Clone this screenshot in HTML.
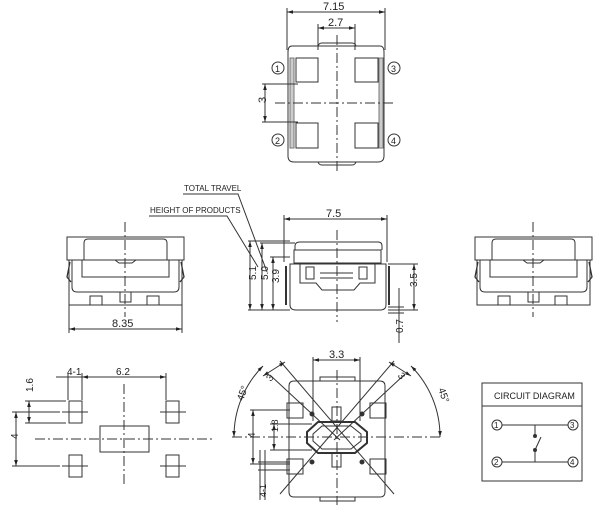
<!DOCTYPE html>
<html><head><style>
html,body{margin:0;padding:0;background:#fff;}
svg{display:block;}
text{font-family:"Liberation Sans",sans-serif;fill:#222;}
</style></head><body>
<svg width="600" height="514" viewBox="0 0 600 514" xmlns="http://www.w3.org/2000/svg" fill="none" stroke="#333" stroke-width="1">
<defs>
<marker id="a" viewBox="0 0 10 10" refX="10" refY="5" markerWidth="6" markerHeight="6" orient="auto-start-reverse"><path d="M0,2L10,5L0,8z" fill="#222" stroke="none"/></marker>
<g id="side">
<rect x="0" y="0" width="117" height="23"/>
<path d="M17,23 V6 Q17,2 21,2 H96 Q100,2 100,6 V23"/>
<path d="M17,23 H48 L52,26 H65 L69,23 H100"/>
<rect x="15" y="23" width="87" height="17"/>
<path d="M5,23 V50 Q5,55 10,55 H107 Q112,55 112,50 V23"/>
<path d="M2,23 V68 H115 V23"/>
<path d="M3,25 L0,40 L4,45 M114,25 L117,40 L113,45" stroke-width="1.3"/>
<rect x="23" y="59" width="12" height="9"/>
<rect x="80" y="59" width="12" height="9"/>
<rect x="53" y="55" width="11" height="10"/>
<line x1="58" y1="-15" x2="58" y2="80" stroke-dasharray="10,3,2,3"/>
</g>
</defs>

<!-- TOP VIEW -->
<g>
<line x1="287" y1="12" x2="385" y2="12" marker-start="url(#a)" marker-end="url(#a)"/>
<line x1="287" y1="8" x2="287" y2="50"/><line x1="385" y1="8" x2="385" y2="50"/>
<text x="323" y="10" font-size="11" stroke="none">7.15</text>
<line x1="318" y1="28" x2="355" y2="28" marker-start="url(#a)" marker-end="url(#a)"/>
<line x1="318" y1="24" x2="318" y2="50"/><line x1="355" y1="24" x2="355" y2="50"/>
<text x="328" y="26" font-size="11" stroke="none">2.7</text>
<path d="M292,46 H380 Q384,46 384,52 V156 Q384,162 378,162 H294 Q288,162 288,156 V52 Q288,46 292,46Z"/>
<path d="M318,46 Q319,43 322,43 H352 Q355,43 356,46 M318,162 Q319,165 322,165 H352 Q355,165 356,162"/>
<path d="M296,58 H318 V82 H296Z M355,58 H378 V82 H355Z M296,123 H318 V148 H296Z M355,123 H378 V148 H355Z"/>
<rect x="290" y="58" width="4" height="90" fill="#ccc" stroke="#777"/>
<rect x="379" y="58" width="4" height="90" fill="#ccc" stroke="#777"/>
<line x1="337" y1="35" x2="337" y2="172" stroke-dasharray="10,3,2,3"/>
<line x1="275" y1="103" x2="396" y2="103" stroke-dasharray="10,3,2,3"/>
<line x1="262" y1="84" x2="298" y2="84"/><line x1="262" y1="122" x2="298" y2="122"/>
<line x1="265" y1="84" x2="265" y2="122" marker-start="url(#a)" marker-end="url(#a)"/>
<text x="262" y="107" font-size="11" stroke="none" transform="rotate(-90 262 103)">3</text>
<circle cx="278" cy="68" r="6"/><text x="275" y="72" font-size="9" stroke="none">1</text>
<circle cx="394" cy="68" r="6"/><text x="391" y="72" font-size="9" stroke="none">3</text>
<circle cx="278" cy="140" r="6"/><text x="275" y="144" font-size="9" stroke="none">2</text>
<circle cx="394" cy="140" r="6"/><text x="391" y="144" font-size="9" stroke="none">4</text>
</g>

<!-- SIDE VIEWS -->
<use href="#side" x="67" y="237"/>
<use href="#side" x="475" y="237"/>
<line x1="69" y1="305" x2="69" y2="333"/><line x1="182" y1="305" x2="182" y2="333"/>
<line x1="69" y1="329" x2="182" y2="329" marker-start="url(#a)" marker-end="url(#a)"/>
<text x="112" y="327" font-size="11" stroke="none">8.35</text>

<!-- FRONT VIEW -->
<g>
<line x1="284" y1="219" x2="387" y2="219" marker-start="url(#a)" marker-end="url(#a)"/>
<line x1="284" y1="215" x2="284" y2="262"/><line x1="387" y1="215" x2="387" y2="262"/>
<text x="326" y="217" font-size="11" stroke="none">7.5</text>
<path d="M295,250 V246 Q295,242 300,242 H378 Q382,242 382,246 V250"/>
<path d="M294,250 H381 V263 H294Z"/>
<path d="M290,264 V305 Q290,310 296,310 H380 Q386,310 386,305 V264 Z"/>
<path d="M300,264 V283 H316 L322,290 H332 M375,264 V283 H360 L354,290 H344 M322,290 H354"/>
<rect x="306" y="267" width="8" height="12"/><rect x="359" y="267" width="8" height="12"/>
<line x1="320" y1="273" x2="353" y2="273"/><line x1="320" y1="278" x2="353" y2="278"/>
<line x1="286" y1="266" x2="286" y2="305" stroke-width="2"/><line x1="389" y1="266" x2="389" y2="305" stroke-width="2"/>
<line x1="337" y1="230" x2="337" y2="322" stroke-dasharray="10,3,2,3"/>
<line x1="248" y1="241" x2="290" y2="241"/><line x1="260" y1="243" x2="295" y2="243"/><line x1="270" y1="257" x2="290" y2="257"/>
<line x1="248" y1="310" x2="290" y2="310"/>
<line x1="250" y1="241" x2="250" y2="310" marker-start="url(#a)" marker-end="url(#a)"/>
<line x1="262" y1="243" x2="262" y2="310" marker-start="url(#a)" marker-end="url(#a)"/>
<line x1="273" y1="257" x2="273" y2="310" marker-start="url(#a)" marker-end="url(#a)"/>
<text x="248" y="288" font-size="10" stroke="none" transform="rotate(-90 248 280)">5.1</text>
<text x="260" y="288" font-size="10" stroke="none" transform="rotate(-90 260 280)">5.0</text>
<text x="271" y="291" font-size="10" stroke="none" transform="rotate(-90 271 283)">3.9</text>
<text x="184" y="191" font-size="8" stroke="none" font-family="Liberation Serif">TOTAL TRAVEL</text>
<path d="M183,194 H238 L267,272"/>
<text x="150" y="213" font-size="8" stroke="none" font-family="Liberation Serif">HEIGHT OF PRODUCTS</text>
<path d="M149,216 H227 L258,267"/>
<line x1="388" y1="264" x2="418" y2="264"/><line x1="388" y1="310" x2="418" y2="310"/>
<line x1="414" y1="264" x2="414" y2="310" marker-start="url(#a)" marker-end="url(#a)"/>
<text x="412" y="292" font-size="10" stroke="none" transform="rotate(-90 412 287)">3.5</text>
<line x1="399" y1="288" x2="399" y2="343"/><line x1="388" y1="307" x2="404" y2="307"/><line x1="388" y1="313" x2="404" y2="313"/>
<text x="398" y="338" font-size="10" stroke="none" transform="rotate(-90 398 333)">0.7</text>
</g>

<!-- FOOTPRINT -->
<g>
<rect x="69" y="401" width="13" height="22"/><rect x="166" y="401" width="13" height="22"/>
<rect x="69" y="455" width="13" height="22"/><rect x="166" y="455" width="13" height="22"/>
<rect x="100" y="426" width="49" height="26"/>
<line x1="124" y1="384" x2="124" y2="485" stroke-dasharray="10,3,2,3"/>
<line x1="35" y1="439" x2="213" y2="439" stroke-dasharray="10,3,2,3"/>
<line x1="62" y1="412" x2="88" y2="412"/><line x1="160" y1="412" x2="186" y2="412"/>
<line x1="62" y1="466" x2="88" y2="466"/><line x1="160" y1="466" x2="186" y2="466"/>
<line x1="68" y1="373" x2="68" y2="400"/><line x1="82" y1="373" x2="82" y2="400"/><line x1="166" y1="373" x2="166" y2="400"/>
<line x1="56" y1="377" x2="166" y2="377"/>
<line x1="82" y1="377" x2="166" y2="377" marker-start="url(#a)" marker-end="url(#a)"/>
<text x="116" y="375" font-size="10" stroke="none">6.2</text>
<text x="67" y="375" font-size="10" stroke="none">4-1</text>
<line x1="25" y1="401" x2="66" y2="401"/><line x1="25" y1="423" x2="66" y2="423"/>
<line x1="29" y1="401" x2="29" y2="423" marker-start="url(#a)" marker-end="url(#a)"/>
<text x="27" y="398" font-size="10" stroke="none" transform="rotate(-90 27 392)">1.6</text>
<line x1="12" y1="412" x2="60" y2="412"/><line x1="12" y1="466" x2="60" y2="466"/>
<line x1="16" y1="412" x2="16" y2="466" marker-start="url(#a)" marker-end="url(#a)"/>
<text x="14" y="443" font-size="10" stroke="none" transform="rotate(-90 14 439)">4</text>
</g>

<!-- BOTTOM VIEW -->
<g>
<path d="M294,381 H380 Q385,381 385,386 V492 Q385,497 380,497 H294 Q289,497 289,492 V386 Q289,381 294,381Z"/>
<path d="M320,381 V377 H355 V381 M320,497 V501 H355 V497"/>
<rect x="287" y="403" width="16" height="15"/><rect x="370" y="403" width="16" height="15"/>
<rect x="287" y="459" width="16" height="15"/><rect x="370" y="459" width="16" height="15"/>
<path d="M318,422 H355 L367,432 V443 L355,453 H318 L307,443 V432Z" stroke-width="2"/>
<path d="M322,426 H351 L361,434 V441 L351,449 H322 L313,441 V434Z"/>
<rect x="332" y="407" width="9" height="14"/><rect x="332" y="453" width="9" height="14"/>
<circle cx="312" cy="414" r="2" fill="#333"/><circle cx="362" cy="414" r="2" fill="#333"/>
<circle cx="312" cy="462" r="2" fill="#333"/><circle cx="362" cy="462" r="2" fill="#333"/>
<line x1="337" y1="370" x2="337" y2="505" stroke-dasharray="10,3,2,3"/>
<line x1="232" y1="437" x2="440" y2="437" stroke-dasharray="10,3,2,3"/>
<line x1="280" y1="361" x2="394" y2="494"/><line x1="394" y1="361" x2="280" y2="494"/>
<line x1="270" y1="375" x2="340" y2="440"/><line x1="404" y1="375" x2="334" y2="440"/>
<line x1="313" y1="357" x2="313" y2="421"/><line x1="360" y1="357" x2="360" y2="421"/>
<line x1="313" y1="360" x2="360" y2="360" marker-start="url(#a)" marker-end="url(#a)"/>
<text x="329" y="358" font-size="11" stroke="none">3.3</text>
<line x1="263" y1="376" x2="285" y2="362" marker-start="url(#a)" marker-end="url(#a)"/>
<text x="265" y="380" font-size="10" stroke="none" transform="rotate(-50 270 375)">3</text>
<line x1="389" y1="362" x2="411" y2="376" marker-start="url(#a)" marker-end="url(#a)"/>
<text x="400" y="380" font-size="10" stroke="none" transform="rotate(50 403 375)">3</text>
<path d="M234,437 A100,100 0 0 1 263,366" marker-start="url(#a)" marker-end="url(#a)"/>
<path d="M440,437 A100,100 0 0 0 411,366" marker-start="url(#a)" marker-end="url(#a)"/>
<text x="235" y="400" font-size="10" stroke="none" transform="rotate(-70 240 395)">45°</text>
<text x="432" y="392" font-size="10" stroke="none" transform="rotate(70 437 395)">45°</text>
<line x1="250" y1="410" x2="290" y2="410"/><line x1="250" y1="464" x2="290" y2="464"/>
<line x1="253" y1="410" x2="253" y2="464" marker-start="url(#a)" marker-end="url(#a)"/>
<text x="251" y="442" font-size="10" stroke="none" transform="rotate(-90 251 438)">4</text>
<line x1="270" y1="424" x2="312" y2="424"/><line x1="270" y1="450" x2="312" y2="450"/>
<line x1="274" y1="424" x2="274" y2="450" marker-start="url(#a)" marker-end="url(#a)"/>
<text x="272" y="438" font-size="9" stroke="none" transform="rotate(-90 272 432)">1.8</text>
<line x1="260" y1="450" x2="260" y2="500"/><line x1="265" y1="450" x2="265" y2="500"/>
<line x1="258" y1="462" x2="290" y2="462"/><line x1="258" y1="470" x2="290" y2="470"/>
<text x="258" y="505" font-size="9" stroke="none" transform="rotate(-90 258 497)">4-1</text>
</g>

<!-- CIRCUIT DIAGRAM -->
<g>
<rect x="482" y="383" width="100" height="98"/>
<line x1="482" y1="406" x2="582" y2="406"/>
<text x="494" y="399" font-size="9" stroke="none">CIRCUIT  DIAGRAM</text>
<circle cx="497" cy="425" r="5"/><text x="494" y="428" font-size="8" stroke="none">1</text>
<circle cx="573" cy="425" r="5"/><text x="570" y="428" font-size="8" stroke="none">3</text>
<circle cx="497" cy="462" r="5"/><text x="494" y="465" font-size="8" stroke="none">2</text>
<circle cx="573" cy="462" r="5"/><text x="570" y="465" font-size="8" stroke="none">4</text>
<line x1="502" y1="425" x2="568" y2="425"/><line x1="502" y1="462" x2="568" y2="462"/>
<line x1="535" y1="425" x2="535" y2="436"/><line x1="535" y1="450" x2="535" y2="462"/>
<line x1="535" y1="450" x2="541" y2="437"/>
<circle cx="535" cy="436" r="1.5" fill="#333"/><circle cx="535" cy="450" r="1.5" fill="#333"/>
</g>
</svg>
</body></html>
